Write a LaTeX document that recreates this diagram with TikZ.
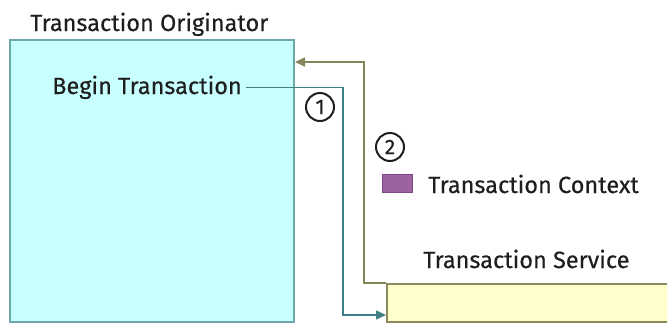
\documentclass[tikz,border=0pt]{standalone}
\usepackage{fontspec}
\setmainfont{Fira Sans}[FakeBold=0.35]
\usetikzlibrary{arrows.meta,calc}
\definecolor{boxblue}{HTML}{C8FFFF}
\definecolor{boxblueline}{HTML}{6FA6A8}
\definecolor{tealline}{HTML}{3F8085}
\definecolor{oliveline}{HTML}{85855A}
\definecolor{boxyellow}{HTML}{FFFFCC}
\definecolor{boxyellowline}{HTML}{8A8A5C}
\definecolor{ctxpurple}{HTML}{9C62A2}
\definecolor{ctxpurpleline}{HTML}{7E4A86}
\definecolor{txt}{HTML}{1E1E1E}
\begin{document}
\begin{tikzpicture}[x=1pt,y=-1pt,
  lbl/.style={inner sep=0pt, anchor=base west, font=\fontsize{23.5}{26}\selectfont, text=txt},
  num/.style={circle, draw=txt, line width=2pt, minimum size=28pt, inner sep=0pt, font=\fontsize{21}{22}\selectfont, text=txt},
  conn/.style={line width=1.6pt, -{Triangle[length=10pt,width=9pt]}}]
\useasboundingbox (0,0) rectangle (667,322);
\node[draw=boxblueline, fill=boxblue, line width=2pt, minimum width=284pt, minimum height=282pt, anchor=north west, inner sep=0pt] (orig) at (9,39) {};
\node[draw=boxyellowline, fill=boxyellow, line width=2pt, minimum width=300pt, minimum height=38pt, anchor=north west, inner sep=0pt] (service) at (386,283) {};
\node[lbl] (origlabel) at (30,31) {Transaction Originator};
\node[lbl] (begin) at (52,94) {Begin Transaction};
\node[lbl] (ctx) at (428,193) {Transaction Context};
\node[lbl] (svclabel) at (423,268) {Transaction Service};
\node[draw=ctxpurpleline, fill=ctxpurple, line width=1pt, minimum width=30pt, minimum height=18pt, inner sep=0pt, anchor=north west] (ctxbox) at (382,174) {};
\node[num] (n1) at (320,107) {1};
\node[num] (n2) at (390,147) {2};
\coordinate (t1) at (343,315);
\coordinate (o1) at (364,62);
\draw[conn, tealline] ([xshift=4pt]begin.east) -| (t1) -- (t1 -| service.west);
\draw[conn, oliveline] (service.north west) -| (o1) -- (o1 -| orig.east);
\end{tikzpicture}
\end{document}
